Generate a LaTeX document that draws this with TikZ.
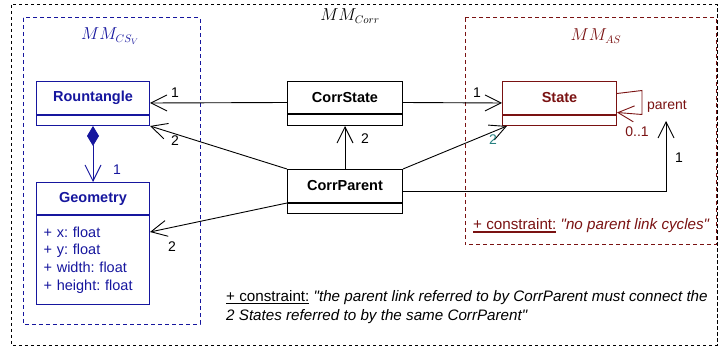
\documentclass[tikz,border=0pt]{standalone}
\usepackage{fontspec}
\setmainfont{Liberation Sans}[Ligatures=TeXOff]
\usetikzlibrary{arrows.meta}
\frenchspacing
\definecolor{umlblue}{RGB}{22,22,158}
\definecolor{umlred}{RGB}{122,18,18}
\definecolor{umlteal}{RGB}{38,128,128}
% underlined keyword with a heavier rule
\newcommand\keyul[1]{\leavevmode\vtop{\hbox{#1}\kern1.2pt\hrule height 1.6pt}}
\tikzset{
  title/.style={draw, line width=1pt, inner sep=0pt, anchor=north west,
    font=\fontsize{14.5}{17}\selectfont\bfseries},
  body/.style={draw, line width=1pt, inner sep=0pt, anchor=north west},
  assoc/.style={line width=0.9pt,
    -{Straight Barb[length=16pt,width=16pt,line width=0.9pt]}},
  mult/.style={font=\fontsize{14}{16}\selectfont, inner sep=0pt},
  pkg/.style={line width=1pt, dash pattern=on 3.3pt off 2.7pt},
  subpkg/.style={line width=1pt, dash pattern=on 4.3pt off 2.7pt},
  pkgname/.style={font=\fontsize{16}{19}\selectfont, inner sep=0pt},
  note/.style={font=\fontsize{15.2}{19.5}\selectfont, inner sep=0pt, anchor=west, align=left}
}
\begin{document}
\begin{tikzpicture}[x=1pt,y=-1pt]
\useasboundingbox (0,0) rectangle (720,347);

% package frames
\draw[pkg] (11,5) rectangle (717.5,345);
\node[pkgname] (mcorr) at (350,16) {$MM_{Corr}$};
\draw[subpkg, umlblue] (23,18) rectangle (200,324);
\node[pkgname, text=umlblue] (mcs) at (110,36) {$MM_{CS_V}$};
\draw[subpkg, umlred] (465,18) rectangle (716,245);
\node[pkgname, text=umlred] (mas) at (596,36) {$MM_{AS}$};

% classes of MM_CSV
\node[title, umlblue, minimum width=113pt, minimum height=33pt] (rt) at (36,81) {Rountangle};
\node[body, umlblue, minimum width=113pt, minimum height=10pt] (rtb) at (rt.south west) {};
\node[title, umlblue, minimum width=113pt, minimum height=32pt] (gt) at (36,182) {Geometry};
\node[body, umlblue, text width=99pt, inner xsep=7pt, minimum height=89pt, align=left,
  font=\fontsize{14.5}{17.7}\selectfont] (gb) at (gt.south west)
  {+ x: float\\+ y: float\\+ width: float\\+ height: float};

% correspondence classes
\node[title, minimum width=115pt, minimum height=32pt] (cs) at (287,81) {CorrState};
\node[body, minimum width=115pt, minimum height=11pt] (csb) at (cs.south west) {};
\node[title, minimum width=115pt, minimum height=33pt] (cp) at (287,169) {CorrParent};
\node[body, minimum width=115pt, minimum height=10pt] (cpb) at (cp.south west) {};

% class of MM_AS
\node[title, umlred, minimum width=114pt, minimum height=33pt] (st) at (502,81) {State};
\node[body, umlred, minimum width=114pt, minimum height=10pt] (stb) at (st.south west) {};

% composition Rountangle -> Geometry
\draw[umlblue, line width=0.9pt,
  {Diamond[length=20pt,width=12pt]}-{Straight Barb[length=16pt,width=16pt,line width=0.9pt]}]
  (rtb.south) -- (gt.north);
\node[mult, text=umlblue] (m1) at (117,170) {1};

% associations
\draw[assoc] ([yshift=-5pt]cs.west) -- ([yshift=-5pt]rt.east);
\node[mult] (m2) at (175,93) {1};
\draw[assoc] ([yshift=-5pt]cs.east) -- ([yshift=-5pt]st.west);
\node[mult] (m3) at (477,93) {1};
\draw[assoc] (cp.north) -- (csb.south);
\node[mult] (m4) at (365,139) {2};
\draw[assoc] (cp.north west) -- (rtb.south east);
\node[mult] (m5) at (175,141) {2};
\draw[assoc] (cp.north east) -- ([xshift=5pt]stb.south west);
\node[mult, text=umlteal] (m6) at (493,140) {2};
\draw[assoc] (cpb.north west) -- ([yshift=-17pt]gb.north east);
\node[mult] (m7) at (172,247) {2};
\coordinate (ptip) at (666,121);
\draw[assoc] ([yshift=-5pt]cp.east) -| (ptip);
\node[mult] (m8) at (679,158) {1};

% parent self-association
\draw[assoc, umlred] ([yshift=4.5pt]st.east) -- ++(25,-3) -- ++(0,24) -- ([yshift=-14.5pt]st.east);
\node[mult, text=umlred] (m9) at (667,106) {parent};
\node[mult, text=umlred] (m10) at (637,132) {0..1};

% constraints
\node[note, text=umlred] (c1) at (473,226)
  {\keyul{+ constraint:} \itshape "no parent link cycles"};
\node[note, anchor=north west] (c2) at (226,290)
  {\keyul{+ constraint:} \itshape "the parent link referred to by CorrParent must connect the\\
   \itshape 2 States referred to by the same CorrParent"};
\end{tikzpicture}
\end{document}
